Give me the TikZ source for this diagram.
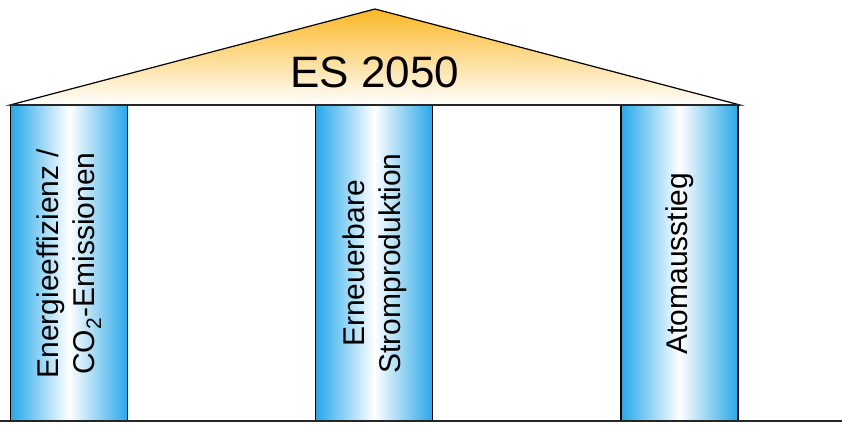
\documentclass[tikz,border=0pt]{standalone}
\usepackage{fontspec}
\setmainfont{Liberation Sans}
\usetikzlibrary{positioning}
\definecolor{pillarblue}{RGB}{38,168,232}
\definecolor{rooforange}{RGB}{251,184,38}
\tikzset{
    saeule/.style={
           rectangle,
           draw=black, line width=1.2pt,
           minimum width=117pt,
           minimum height=316pt,
           inner sep=0pt,
           left color=pillarblue,
           right color=pillarblue,
           middle color=white},
    beschr/.style={
           rotate=90,
           align=center,
           font=\fontsize{30}{36}\selectfont},
    dach/.style={
           draw=black, line width=1.2pt,
           top color=rooforange,
           bottom color=white}
}
\begin{document}
\begin{tikzpicture}[x=1pt, y=-1pt, node distance=187pt]
        \useasboundingbox (0,0) rectangle (842,425);
        % roof
        \coordinate (dl) at (10,105);
        \coordinate (dr) at (740,105);
        \coordinate (top) at (375,9);
        \shade[dach] (dl) -- (top) -- (dr) -- cycle;
        \node[font=\fontsize{44}{50}\selectfont] (titel) at (375,72) {ES 2050};
        % pillars
        \node[saeule, anchor=north west] (P1) at (10,105) {};
        \node[saeule, right=of P1] (P2) {};
        \node[saeule, right=of P2] (P3) {};
        \node[beschr] (t1) at (P1.center) {Energieeffizienz /\\CO\textsubscript{2}-Emissionen};
        \node[beschr] (t2) at (P2.center) {Erneuerbare\\Stromproduktion};
        \node[beschr] (t3) at (P3.center) {Atomausstieg};
        \draw[line width=2.5pt, black!85] (dl) -- (dr);
        % ground
        \coordinate (gl) at (0,421);
        \coordinate (gr) at (842,421);
        \draw[line width=2pt, black!85] (gl) -- (gr);
\end{tikzpicture}
\end{document}
